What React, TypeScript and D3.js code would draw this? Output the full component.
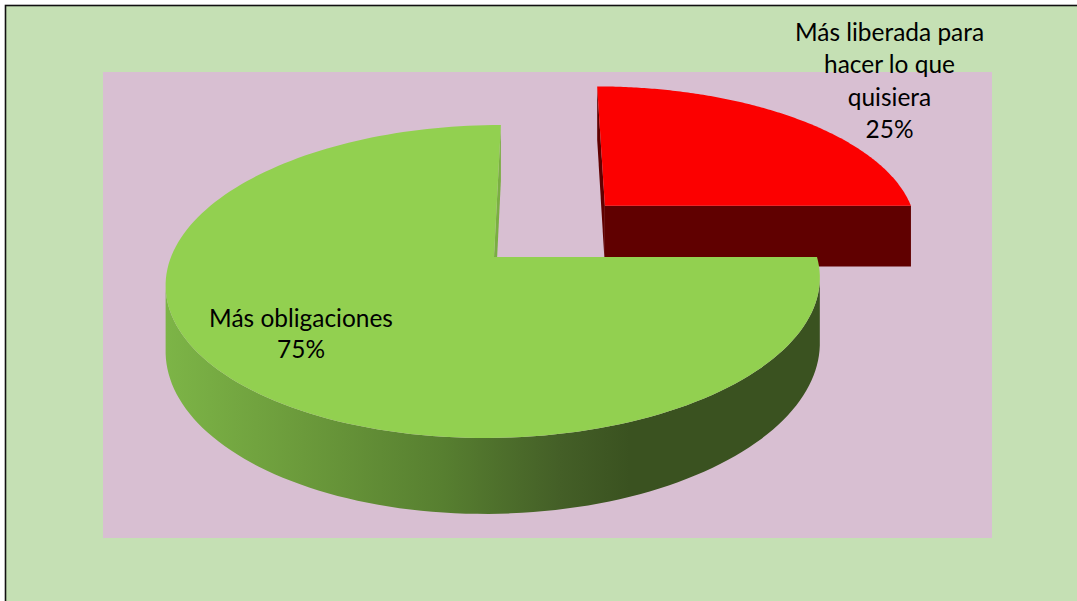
import React from "react";
import * as d3 from "d3";

// ---- data ----
const categories = ["Más liberada para hacer lo que quisiera", "Más obligaciones"];
const values = [25, 75];
const labelLines = [["Más liberada para", "hacer lo que", "quisiera"], ["Más obligaciones"]];
const topColors = ["#fc0000", "#92d050"];
const faceColors = ["#600000", "#7aae42"];
const explodes = [0.5, 0];

const W = 1077;
const H = 601;
const FONT = "Lato, 'Open Sans', sans-serif";

// projection parameters (3D pie look)
const cx = 494, cy = 257, sx = 323, sy = 152.7, k = 0.1565, depth = 64;
const camU = 0.158; // horizontal camera offset (in radius units)
const camV = 1 / k;
const shear = sx * camU * k;

function proj(u: number, v: number, w: number): [number, number] {
  const d = 1 - k * v;
  return [cx + (sx * u - shear * v) / d, cy + (sy * v + depth * w) / d];
}

function pathOf(pts: [number, number][]) {
  const p = d3.path();
  pts.forEach((q, i) => (i === 0 ? p.moveTo(q[0], q[1]) : p.lineTo(q[0], q[1])));
  p.closePath();
  return p.toString();
}

function measure(text: string, target: number) {
  try {
    const c = document.createElement("canvas").getContext("2d");
    if (!c) return 21;
    c.font = `100px ${FONT}`;
    const w = c.measureText(text).width;
    return (100 * target) / w;
  } catch (e) {
    return 21;
  }
}

export default function App() {
  const arcs = d3.pie<number>().sort(null).value((d) => d)(values);
  const total = d3.sum(values);
  const fontSize = measure("Más obligaciones", 184);

  const slices = arcs.map((a, i) => {
    const t0 = a.startAngle - Math.PI / 2;
    const t1 = a.endAngle - Math.PI / 2;
    const mid = (t0 + t1) / 2;
    const ou = explodes[i] * Math.cos(mid);
    const ov = explodes[i] * Math.sin(mid);
    const N = 160;
    const ts = d3.range(N + 1).map((j) => t0 + ((t1 - t0) * j) / N);
    const rim = (t: number, w: number) => proj(ou + Math.cos(t), ov + Math.sin(t), w);
    const apex = (w: number) => proj(ou, ov, w);
    const top = pathOf([apex(0), ...ts.map((t) => rim(t, 0))]);

    const faces: { d: string; fill: string }[] = [];
    // radial faces
    const edges = [
      { t: t0, n: [Math.sin(t0), -Math.cos(t0)] },
      { t: t1, n: [-Math.sin(t1), Math.cos(t1)] },
    ];
    edges.forEach((e) => {
      const pu = ou + 0.5 * Math.cos(e.t);
      const pv = ov + 0.5 * Math.sin(e.t);
      const dot = (camU - pu) * e.n[0] + (camV - pv) * e.n[1];
      if (dot > 0) {
        faces.push({
          d: pathOf([apex(0), rim(e.t, 0), rim(e.t, 1), apex(1)]),
          fill: faceColors[i],
        });
      }
    });
    // outer wall, visible segments
    const vis = (t: number) => {
      const pu = ou + Math.cos(t), pv = ov + Math.sin(t);
      return (camU - pu) * Math.cos(t) + (camV - pv) * Math.sin(t) > 0;
    };
    const segs: number[][] = [];
    let cur: number[] = [];
    ts.forEach((t) => {
      if (vis(t)) cur.push(t);
      else if (cur.length) { segs.push(cur); cur = []; }
    });
    if (cur.length) segs.push(cur);
    const walls = segs
      .filter((s) => s.length > 1)
      .map((s) => pathOf([...s.map((t) => rim(t, 0)), ...s.slice().reverse().map((t) => rim(t, 1))]));

    const depthKey = ov + 0.5 * Math.sin(mid);
    return { i, top, faces, walls, depthKey };
  });

  const order = slices.slice().sort((a, b) => a.depthKey - b.depthKey);

  const pct = values.map((v) => `${Math.round((v / total) * 100)}%`);
  const labelPos = [
    { x: 889.5, y: 41 },
    { x: 301, y: 327 },
  ];
  const lineH = 32.4;

  return (
    <svg width={W} height={H} style={{ position: "absolute", left: 0, top: 0, display: "block" }}>
      <defs>
        <linearGradient id="wallGreen" gradientUnits="userSpaceOnUse" x1={163} y1={0} x2={630} y2={0}>
          <stop offset="0" stopColor="#7db547" />
          <stop offset="0.3" stopColor="#6b9a3b" />
          <stop offset="0.6" stopColor="#577f30" />
          <stop offset="0.85" stopColor="#445f27" />
          <stop offset="1" stopColor="#3a5220" />
        </linearGradient>
        <linearGradient id="wallRed" gradientUnits="userSpaceOnUse" x1={600} y1={0} x2={910} y2={0}>
          <stop offset="0" stopColor="#800000" />
          <stop offset="1" stopColor="#500000" />
        </linearGradient>
      </defs>
      <rect x={0} y={0} width={W} height={H} fill="#ffffff" />
      <rect x={5.5} y={5.5} width={W + 10} height={H + 10} fill="#c5e0b4" stroke="#111" strokeWidth={1.6} />
      <rect x={103} y={72} width={889} height={466} fill="#d8bfd2" />
      {order.map((s) => (
        <g key={s.i}>
          {s.walls.map((d, j) => (
            <path key={"w" + j} d={d} fill={s.i === 1 ? "url(#wallGreen)" : "url(#wallRed)"} />
          ))}
          {s.faces.map((f, j) => (
            <path key={"f" + j} d={f.d} fill={f.fill} />
          ))}
          <path d={s.top} fill={topColors[s.i]} />
        </g>
      ))}
      {categories.map((c, i) => {
        const lines = [...labelLines[i], pct[i]];
        return (
          <text
            key={c}
            x={labelPos[i].x}
            y={labelPos[i].y}
            textAnchor="middle"
            fontFamily={FONT}
            fontSize={fontSize}
            fill="#000"
          >
            {lines.map((l, j) => (
              <tspan key={j} x={labelPos[i].x} y={labelPos[i].y + j * (i === 1 ? 31 : lineH)}>
                {l}
              </tspan>
            ))}
          </text>
        );
      })}
    </svg>
  );
}
